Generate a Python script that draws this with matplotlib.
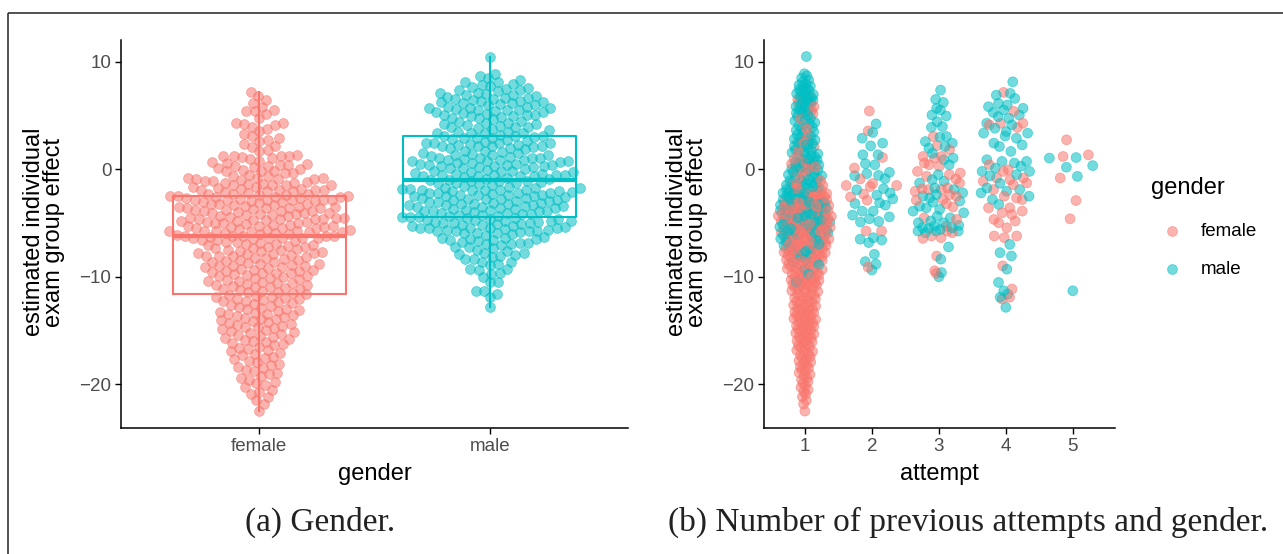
import numpy as np
import matplotlib
matplotlib.use("Agg")
import matplotlib.pyplot as plt

# ---------------- data ----------------
FEMALE_COL = "#F8766D"
MALE_COL = "#00BFC4"

# attempt 1: counts of points per unit bin [k, k+1), k = lower edge
bin_lower = list(range(10, -24, -1))
a1_female_counts = [0, 0, 0, 0, 3, 3, 2, 2, 4, 2, 7, 4, 7, 14, 18, 17, 19, 16,
                    18, 16, 14, 16, 12, 12, 13, 12, 11, 9, 8, 7, 6, 5, 3, 1]
a1_male_counts = [1, 0, 5, 10, 11, 10, 7, 7, 9, 10, 11, 11, 12, 13, 14, 14,
                  13, 10, 7, 4, 2, 1, 0, 0, 0, 0, 0, 0, 0, 0, 0, 0, 0, 0]

# attempts 2-5: individual values
a2_female = [5.43, 3.58, 1.11, 0.12, -0.9, -1.5, -1.32, -1.6, -1.5, -2.56, -2.3,
             -2.87, -5.74, -5.74, -9.1]
a2_male = [4.23, 3.43, 2.9, 2.19, 2.44, 1.36, 1.36, 0.52, 0.43, -0.59, -0.4, -0.56,
           -0.86, -0.28, -1.9, -1.8, -2.2, -2.4, -3.18, -3.12, -3.33, -2.75, -3.89,
           -3.89, -4.26, -4.6, -4.9, -4.85, -4.42, -6.5, -6.36, -6.57, -6.82, -7.9,
           -8.58, -8.82, -9.36]
a3_female = [3.06, 1.82, 1.05, 1.2, 1.2, 0.59, 0.28, -0.49, -0.34, -0.19, 0.43,
             -1.27, -0.65, -1.88, -1.82, -2.81, -2.5, -1.88, -2.04, -2.87, -4.51,
             -4.66, -5.74, -6.2, -5.9, -6.42, -8.06, -9.44, -9.69, -2.35, -6.36,
             -1.73, -3.2, -3.5, 2.2, -0.9, -5.3]
a3_male = [7.38, 6.51, 6.23, 5.68, 5.52, 5.06, 4.97, 3.98, 4.44, 3.92, 3.0, 3.06,
           2.59, 2.13, 2.44, 1.97, 1.05, 0.43, -0.49, -1.73, -1.27, -1.88, -0.96,
           -1.11, -2.35, -2.5, -2.66, -2.19, -2.96, -3.73, -3.43, -3.58, -3.06,
           -4.04, -3.89, -4.35, -4.51, -4.97, -4.97, -5.43, -5.43, -5.28, -5.21,
           -5.74, -5.74, -5.74, -7.22, -8.36, -9.6, -10.0, -5.6, -5.9, -5.5, -4.8,
           0.9, 1.5]
a4_female = [7.16, 4.14, 4.29, 4.29, 0.43, -0.03, -1.11, -0.8, -0.19, -0.8, -0.96,
             -1.42, -1.88, -2.5, -2.66, -2.81, -4.04, -3.58, -3.89, -3.58, -4.2,
             -4.66, -4.81, -6.2, -5.43, -6.2, -8.98, -11.14, -12.07, -1.27, -4.97,
             -6.36, -11.9, 5.4, 3.9]
a4_male = [8.15, 7.07, 6.91, 6.14, 5.99, 5.83, 5.68, 5.52, 4.91, 5.06, 4.75, 4.29,
           4.14, 3.83, 3.37, 3.52, 3.37, 2.9, 2.28, 2.13, 2.44, 1.67, 0.9, 0.12,
           0.74, 0.59, 0.74, -0.19, -0.49, -0.19, -2.19, -1.73, -1.88, -2.04, -2.5,
           -3.27, -6.98, -8.06, -7.75, -9.29, -10.52, -11.3, -11.6, -12.84, -11.9,
           6.6, 5.3, 3.1, 0.3, -0.6, -1.3, -2.8]
a5_female = [2.75, 1.2, 1.35, -0.8, -2.9, -4.6]
a5_male = [1.05, 1.1, 0.2, 0.35, -0.65, -11.3]

genders = ["female", "male"]
attempts = [1, 2, 3, 4, 5]
y_ticks = [-20, -10, 0, 10]


def expand_bins(lowers, counts):
    out = []
    for k, n in zip(lowers, counts):
        for i in range(n):
            out.append(k + 1 - (i + 0.5) / n)
    return out


a1_female = expand_bins(bin_lower, a1_female_counts)
a1_male = expand_bins(bin_lower, a1_male_counts)

female_by_attempt = [a1_female, a2_female, a3_female, a4_female, a5_female]
male_by_attempt = [a1_male, a2_male, a3_male, a4_male, a5_male]
female_all = np.concatenate([np.asarray(v, float) for v in female_by_attempt])
male_all = np.concatenate([np.asarray(v, float) for v in male_by_attempt])

# ---------------- layout ----------------
W, H = 1283, 554
DPI = 100
fig = plt.figure(figsize=(W / DPI, H / DPI), dpi=DPI)
plt.rcParams["font.family"] = ["Liberation Sans", "DejaVu Sans"]

YLIM = (-24.07, 12.04)
axL = fig.add_axes([121 / W, 1 - 428 / H, 507 / W, 388 / H])
axR = fig.add_axes([764 / W, 1 - 428 / H, 351 / W, 388 / H])

PT_S = 50
ALPHA = 0.55
TICK_COL = "#4D4D4D"
TICK_FS = 13.5
TITLE_FS = 17


def style(ax, xlim):
    ax.set_xlim(*xlim)
    ax.set_ylim(*YLIM)
    for s in ["top", "right"]:
        ax.spines[s].set_visible(False)
    for s in ["left", "bottom"]:
        ax.spines[s].set_linewidth(1.1)
        ax.spines[s].set_color("black")
    ax.tick_params(axis="both", length=4, width=1.0, color="black",
                   labelcolor=TICK_COL, labelsize=TICK_FS, pad=3)
    ax.set_yticks(y_ticks)
    ax.set_yticklabels(["\u221220", "\u221210", "0", "10"])


# ---------- beeswarm (swarm) for left panel ----------
def swarm_offsets(vals, yscale, d):
    vals = np.asarray(vals, float)
    ypx = vals * yscale
    order = np.argsort(vals, kind="stable")
    xs = np.zeros(len(vals))
    px, py = [], []
    for idx in order:
        y = ypx[idx]
        x = 0.0
        if px:
            pxa = np.array(px)
            pya = np.array(py)
            dy = np.abs(pya - y)
            m = dy < d
            nx = pxa[m]
            ndy = dy[m]
            if len(nx):
                dx = np.sqrt(d * d - ndy * ndy)
                cand = np.concatenate([[0.0], nx + dx, nx - dx])
                cand = cand[np.argsort(np.abs(cand), kind="stable")]
                for c in cand:
                    if np.all((nx - c) ** 2 + ndy ** 2 >= d * d - 1e-6):
                        x = c
                        break
        xs[idx] = x
        px.append(x)
        py.append(y)
    return xs


YPX = 10.8  # pixels per y unit
XPX_L = 230.0  # pixels per x unit in left panel
D = 8.4

style(axL, (0.4, 2.6))
for i, (vals, col) in enumerate([(female_all, FEMALE_COL), (male_all, MALE_COL)]):
    off = swarm_offsets(vals, YPX, D) / XPX_L
    axL.scatter(i + 1 + off, vals, s=PT_S, color=col, alpha=ALPHA,
                edgecolors=col, linewidths=0.6, zorder=2)
    bp = axL.boxplot([vals], positions=[i + 1], widths=0.75, whis=1.5,
                     showfliers=False, patch_artist=False, manage_ticks=False)
    for k in ["boxes", "whiskers"]:
        for art in bp[k]:
            art.set_color(col)
            art.set_linewidth(1.5)
            art.set_zorder(3)
    for art in bp["caps"]:
        art.set_visible(False)
    for art in bp["medians"]:
        art.set_color(col)
        art.set_linewidth(3.0)
        art.set_zorder(3)
axL.set_xticks([1, 2])
axL.set_xticklabels(genders)


# ---------- quasirandom for right panel ----------
def vdc(n, base=2):
    out = []
    for i in range(1, n + 1):
        q, denom, x = i, 1.0, 0.0
        while q > 0:
            denom *= base
            q, r = divmod(q, base)
            x += r / denom
        out.append(x)
    return np.array(out)


def quasi_offsets(vals, width=0.4):
    y = np.asarray(vals, float)
    n = len(y)
    sd = np.std(y, ddof=1)
    q75, q25 = np.percentile(y, [75, 25])
    lo = min(sd, (q75 - q25) / 1.34)
    if lo <= 0:
        lo = sd if sd > 0 else 1.0
    bw = 0.9 * lo * n ** (-0.2)
    dens = np.exp(-0.5 * ((y[:, None] - y[None, :]) / bw) ** 2).sum(axis=1)
    dens = dens / dens.max()
    ranks = np.argsort(np.argsort(y, kind="stable"), kind="stable")
    seq = vdc(n)[ranks]
    return (seq * 2 - 1) * width * dens


style(axR, (0.39, 5.63))
for a, fv, mv in zip(attempts, female_by_attempt, male_by_attempt):
    vals = np.concatenate([np.asarray(fv, float), np.asarray(mv, float)])
    cols = [FEMALE_COL] * len(fv) + [MALE_COL] * len(mv)
    off = quasi_offsets(vals)
    n = len(vals)
    draw_order = np.argsort((np.arange(n) * 0.6180339887) % 1.0)
    axR.scatter(a + off[draw_order], vals[draw_order], s=PT_S,
                c=[cols[j] for j in draw_order], alpha=ALPHA,
                edgecolors=[cols[j] for j in draw_order], linewidths=0.6,
                zorder=2)
axR.set_xticks(attempts)
axR.set_xticklabels([str(a) for a in attempts])

# ---------- overlay for texts ----------
ov = fig.add_axes([0, 0, 1, 1], zorder=-1)
ov.set_xlim(0, W)
ov.set_ylim(H, 0)
ov.axis("off")

ov.text(374.5, 474, "gender", ha="center", va="center", fontsize=TITLE_FS)
ov.text(939.5, 474, "attempt", ha="center", va="center", fontsize=TITLE_FS)
ylab = "estimated individual\nexam group effect"
ov.text(44, 232, ylab, ha="center", va="center", rotation=90,
        fontsize=TITLE_FS, multialignment="center", linespacing=0.92)
ov.text(687, 232, ylab, ha="center", va="center", rotation=90,
        fontsize=TITLE_FS, multialignment="center", linespacing=0.92)

# legend
ov.text(1151, 188, "gender", ha="left", va="center", fontsize=TITLE_FS)
ov.scatter([1172], [231], s=PT_S, color=FEMALE_COL, alpha=ALPHA,
           edgecolors=FEMALE_COL, linewidths=0.6)
ov.scatter([1172], [269], s=PT_S, color=MALE_COL, alpha=ALPHA,
           edgecolors=MALE_COL, linewidths=0.6)
ov.text(1201, 231, "female", ha="left", va="center", fontsize=TICK_FS)
ov.text(1201, 269, "male", ha="left", va="center", fontsize=TICK_FS)

# captions
CAP_FONT = ["Liberation Serif", "DejaVu Serif"]
ov.text(320, 522, "(a) Gender.", ha="center", va="center", fontsize=24,
        family=CAP_FONT, color="#222222")
ov.text(968, 522, "(b) Number of previous attempts and gender.", ha="center",
        va="center", fontsize=24, family=CAP_FONT, color="#222222")

# border
ov.plot([8, 8], [H + 5, 13], color="#333333", lw=1.2, solid_capstyle="butt")
ov.plot([8, W + 5], [13, 13], color="#333333", lw=1.2, solid_capstyle="butt")

fig.savefig("out.png", dpi=DPI)
